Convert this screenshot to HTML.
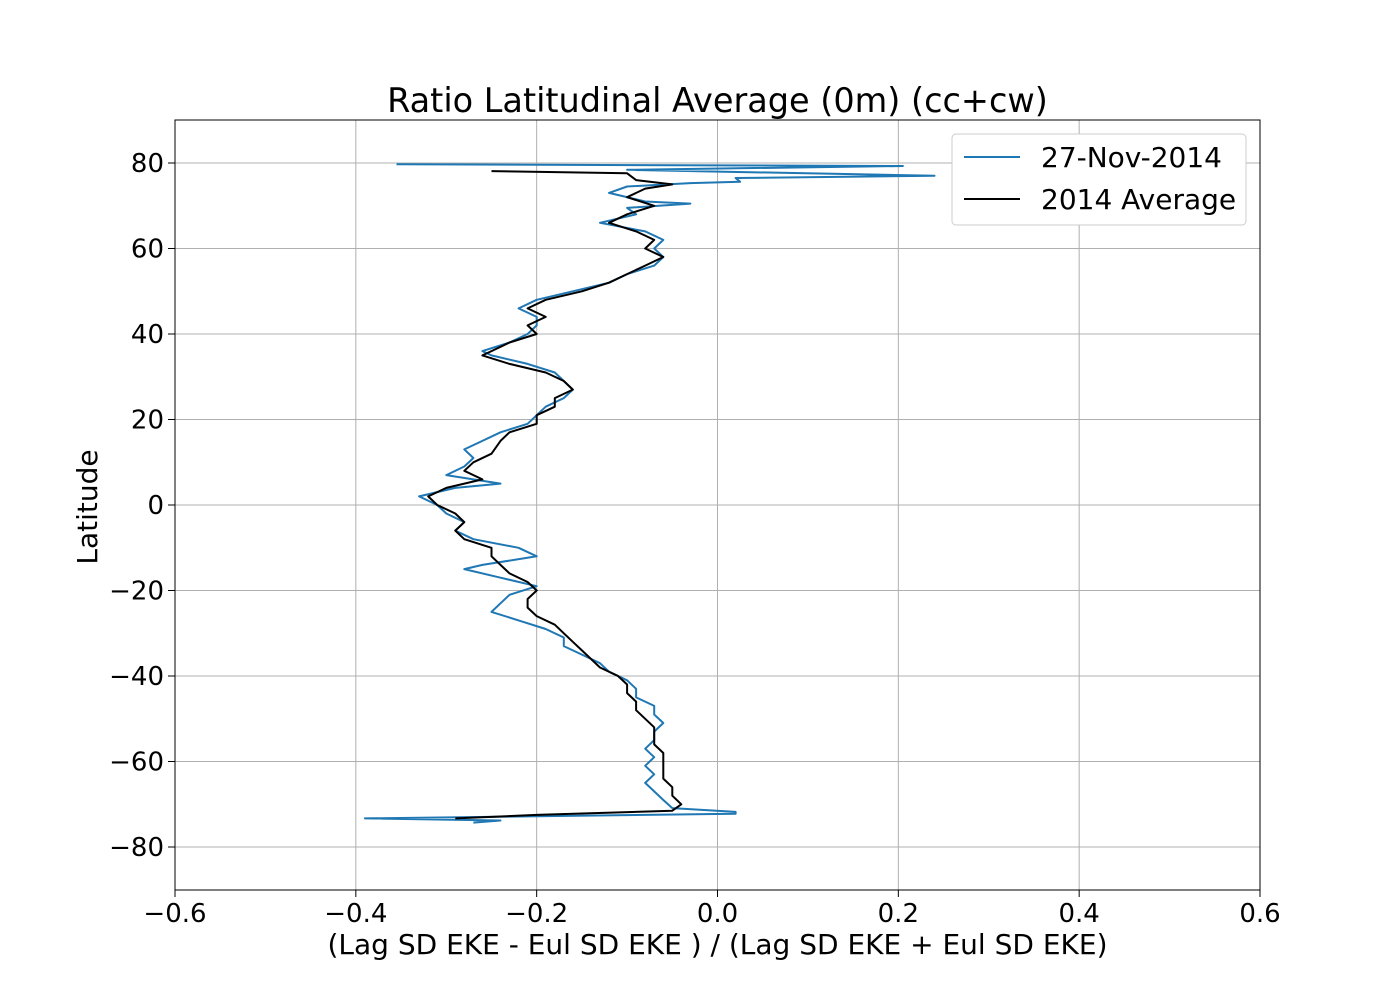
<!DOCTYPE html>
<html><head><meta charset="utf-8"><style>
body{margin:0;background:#fff;}
svg{font-family:"DejaVu Sans","Liberation Sans",sans-serif;}
</style></head><body>
<svg id="chart" width="1400" height="1000" xmlns="http://www.w3.org/2000/svg">
<text x="717.5" y="112" font-size="33.5" text-anchor="middle">Ratio Latitudinal Average (0m) (cc+cw)</text>
<g id="grid"></g>
<g id="lines"></g>
<rect x="175" y="120" width="1085" height="770" fill="none" stroke="#000" stroke-width="1"/>
<g id="ticks"></g>
<text x="717.5" y="954" font-size="28" text-anchor="middle">(Lag SD EKE - Eul SD EKE ) / (Lag SD EKE + Eul SD EKE)</text>
<text transform="translate(97,507) rotate(-90)" font-size="28" text-anchor="middle">Latitude</text>
<g>
<rect x="952" y="134" width="294" height="91" rx="4" fill="#fff" stroke="#ccc"/>
<line x1="964" y1="157" x2="1020" y2="157" stroke="#1f77b4" stroke-width="2"/>
<text x="1041" y="167" font-size="28">27-Nov-2014</text>
<line x1="964" y1="199" x2="1020" y2="199" stroke="#000" stroke-width="2"/>
<text x="1041" y="209" font-size="28">2014 Average</text>
</g>
</svg>
<script>
const xTicks=[-0.6,-0.4,-0.2,0.0,0.2,0.4,0.6];
const xTickLabels=["\u22120.6","\u22120.4","\u22120.2","0.0","0.2","0.4","0.6"];
const yTicks=[-80,-60,-40,-20,0,20,40,60,80];
const yTickLabels=["\u221280","\u221260","\u221240","\u221220","0","20","40","60","80"];
const avgLat=[78.1,77.6,76,75,74,72,70,68,66,64,62,60,58,56,54,52,50,48,46,44,42,40,38,36,35,33,31,29,27,25,23,21,19,17,15,12,10,8,6,4,2,0,-2,-4,-6,-8,-10,-12,-14,-16,-18,-20,-22,-24,-26,-28,-30,-32,-34,-36,-38,-40,-42,-44,-46,-48,-50,-52,-54,-56,-58,-60,-62,-64,-66,-68,-70,-71.5,-72.5,-73.3];
const avgVal=[-0.25,-0.1,-0.09,-0.05,-0.08,-0.1,-0.07,-0.1,-0.12,-0.09,-0.07,-0.08,-0.06,-0.08,-0.1,-0.12,-0.15,-0.19,-0.21,-0.19,-0.21,-0.2,-0.23,-0.25,-0.26,-0.23,-0.19,-0.17,-0.16,-0.18,-0.18,-0.2,-0.2,-0.23,-0.24,-0.25,-0.27,-0.28,-0.26,-0.3,-0.32,-0.31,-0.29,-0.28,-0.29,-0.28,-0.25,-0.25,-0.24,-0.23,-0.21,-0.2,-0.21,-0.21,-0.2,-0.18,-0.17,-0.16,-0.15,-0.14,-0.13,-0.11,-0.1,-0.1,-0.09,-0.09,-0.08,-0.07,-0.07,-0.07,-0.06,-0.06,-0.06,-0.06,-0.05,-0.05,-0.04,-0.05,-0.2,-0.29];
const novLat=[79.7,79.3,78.4,77,76.5,75.6,75.3,74.5,73,71,70.5,69.5,68,66,64,62,60,58,56,54,52,50,48,46,44,42,40,38,36,35,33,31,29,27,25,23,21,19,17,15,13,11,9,7,5,4,2,0,-2,-4,-6,-8,-10,-12,-14,-15,-17,-19,-21,-23,-25,-27,-29,-31,-33,-35,-37,-39,-41,-43,-45,-47,-49,-51,-53,-55,-57,-59,-61,-63,-65,-67,-69,-70.9,-71.8,-72.2,-73.3,-73.8,-74.3];
const novVal=[-0.355,0.205,-0.1,0.24,0.02,0.025,-0.03,-0.1,-0.12,-0.08,-0.03,-0.1,-0.09,-0.13,-0.08,-0.06,-0.07,-0.06,-0.07,-0.1,-0.12,-0.16,-0.2,-0.22,-0.2,-0.2,-0.21,-0.23,-0.26,-0.25,-0.21,-0.18,-0.17,-0.16,-0.17,-0.19,-0.2,-0.21,-0.24,-0.26,-0.28,-0.27,-0.28,-0.3,-0.24,-0.29,-0.33,-0.31,-0.3,-0.28,-0.29,-0.27,-0.22,-0.2,-0.26,-0.28,-0.24,-0.2,-0.23,-0.24,-0.25,-0.22,-0.19,-0.17,-0.17,-0.15,-0.13,-0.12,-0.1,-0.09,-0.09,-0.07,-0.07,-0.06,-0.07,-0.07,-0.08,-0.07,-0.08,-0.07,-0.08,-0.07,-0.06,-0.05,0.02,0.02,-0.39,-0.24,-0.27];
const ns="http://www.w3.org/2000/svg";
function xs(v){return 175+(v+0.6)/1.2*1085;}
function ys(v){return 505-v*4.275;}
function mk(tag,attrs,parent){const e=document.createElementNS(ns,tag);for(const k in attrs)e.setAttribute(k,attrs[k]);parent.appendChild(e);return e;}
const grid=document.getElementById('grid'),ticks=document.getElementById('ticks'),lines=document.getElementById('lines');
xTicks.forEach((t,i)=>{const x=xs(t);
 const g=mk('line',{x1:x,y1:120,x2:x,y2:890,stroke:'#b0b0b0','stroke-width':1},grid);
 
 
 mk('line',{x1:x,y1:890,x2:x,y2:897,stroke:'#000'},ticks);
 const tx=mk('text',{x:x,y:922,'font-size':26,'text-anchor':'middle'},ticks);tx.textContent=xTickLabels[i];
 
 });
yTicks.forEach((t,i)=>{const y=ys(t);
 const g=mk('line',{x1:175,y1:y,x2:1260,y2:y,stroke:'#b0b0b0','stroke-width':1},grid);
 
 
 mk('line',{x1:168,y1:y,x2:175,y2:y,stroke:'#000'},ticks);
 const tx=mk('text',{x:164,y:y+9,'font-size':26,'text-anchor':'end'},ticks);tx.textContent=yTickLabels[i];
 
 });
function pts(lat,val){return lat.map((l,i)=>xs(val[i]).toFixed(1)+','+ys(l).toFixed(1)).join(' ');}
const p1=mk('polyline',{points:pts(novLat,novVal),fill:'none',stroke:'#1f77b4','stroke-width':2,'stroke-linejoin':'round'},lines);


const p2=mk('polyline',{points:pts(avgLat,avgVal),fill:'none',stroke:'#000','stroke-width':2,'stroke-linejoin':'round'},lines);


</script>
</body></html>
